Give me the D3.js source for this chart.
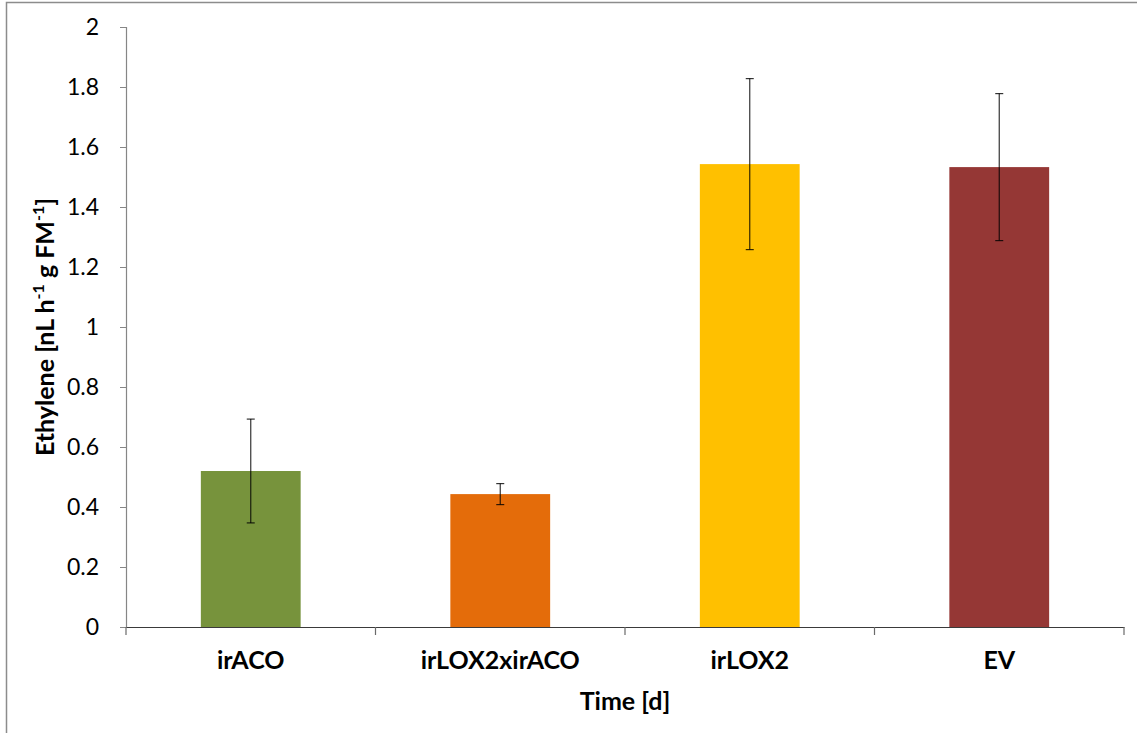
<!DOCTYPE html>
<html><head><meta charset="utf-8">
<script src="https://cdn.jsdelivr.net/npm/d3@7"></script>
<style>body{margin:0;background:#fff;} svg{display:block;}</style>
</head><body>
<script>
const categories = ["irACO", "irLOX2xirACO", "irLOX2", "EV"];
const values = [0.52, 0.443, 1.543, 1.533];
const errors = [0.173, 0.035, 0.285, 0.245];
const colors = ["#77933C", "#E46C0A", "#FFC000", "#953735"];
const yTicks = [0, 0.2, 0.4, 0.6, 0.8, 1, 1.2, 1.4, 1.6, 1.8, 2];

(function () {
const W = 1137, H = 733;
const svg = d3.select("body").append("svg").attr("width", W).attr("height", H);
const font = "Lato, 'Open Sans', sans-serif";

svg.append("rect").attr("x", 6.5).attr("y", 2.5).attr("width", W + 10).attr("height", H + 10)
  .attr("fill", "none").attr("stroke", "#8c8c8c").attr("stroke-width", 1.5);

const mLeft = 126, mRight = 1124, mTop = 27, mBottom = 627;
const x = d3.scaleBand().domain(categories).range([mLeft, mRight]).paddingInner(0.6).paddingOuter(0.3);
const xb = d3.scaleBand().domain(categories).range([mLeft, mRight]);
const y = d3.scaleLinear().domain([0, 2]).range([mBottom, mTop]);

svg.selectAll("rect.bar").data(categories).enter().append("rect")
  .attr("x", d => x(d)).attr("width", x.bandwidth())
  .attr("y", (d, i) => y(values[i])).attr("height", (d, i) => y(0) - y(values[i]))
  .attr("fill", (d, i) => colors[i]);

const yAxis = svg.append("g").attr("transform", `translate(${mLeft},0)`)
  .call(d3.axisLeft(y).tickValues(yTicks).tickFormat(d3.format("~g")).tickSize(6).tickPadding(21));
yAxis.select(".domain").attr("stroke", "#868686").attr("stroke-width", 1.2);
yAxis.selectAll(".tick line").attr("stroke", "#868686");
yAxis.selectAll("text").attr("font-family", font).attr("font-size", 23).attr("fill", "#000");

const xAxis = svg.append("g").attr("transform", `translate(0,${mBottom})`)
  .call(d3.axisBottom(xb).tickSize(0).tickPadding(24));
xAxis.select(".domain").attr("stroke", "#3a3a3a").attr("stroke-width", 1.2);
xAxis.selectAll("text").attr("font-family", font).attr("font-size", 25).attr("font-weight", "bold").attr("fill", "#000");
const bounds = categories.map(c => xb(c)).concat([mRight]);
svg.selectAll("line.xt").data(bounds).enter().append("line")
  .attr("x1", d => d).attr("x2", d => d).attr("y1", mBottom).attr("y2", mBottom + 8)
  .attr("stroke", "#6a6a6a").attr("stroke-width", 1.2);

const eb = svg.append("g").attr("stroke", "#000").attr("stroke-width", 1.2).attr("stroke-opacity", 0.8);
categories.forEach((c, i) => {
  const cx = x(c) + x.bandwidth() / 2;
  const y1 = y(values[i] + errors[i]), y2 = y(values[i] - errors[i]);
  eb.append("line").attr("x1", cx).attr("x2", cx).attr("y1", y1).attr("y2", y2);
  eb.append("line").attr("x1", cx - 4).attr("x2", cx + 4).attr("y1", y1).attr("y2", y1);
  eb.append("line").attr("x1", cx - 4).attr("x2", cx + 4).attr("y1", y2).attr("y2", y2);
});

svg.append("text").attr("x", (mLeft + mRight) / 2).attr("y", 710).attr("text-anchor", "middle")
  .attr("font-family", font).attr("font-size", 25).attr("font-weight", "bold").text("Time [d]");

const yt = svg.append("text").attr("transform", `translate(54,${(mTop + mBottom) / 2}) rotate(-90)`)
  .attr("text-anchor", "middle").attr("font-family", font).attr("font-size", 25).attr("font-weight", "bold");
yt.append("tspan").text("Ethylene [nL h");
yt.append("tspan").attr("dy", -10).attr("font-size", 16).text("-1");
yt.append("tspan").attr("dy", 10).text(" g FM");
yt.append("tspan").attr("dy", -10).attr("font-size", 16).text("-1");
yt.append("tspan").attr("dy", 10).text("]");
})();
</script>
</body></html>
